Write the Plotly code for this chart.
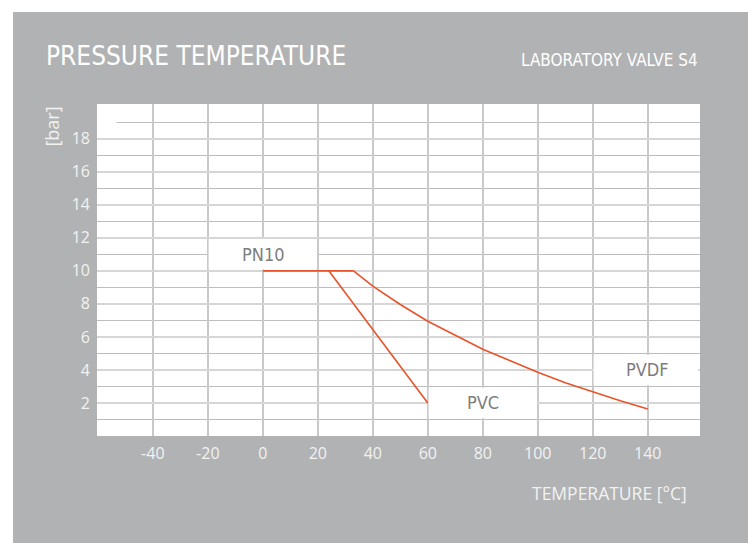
import plotly.graph_objects as go

# --- datos ---
pn10_temp = [0, 33]
pn10_bar = [10, 10]

pvc_temp = [24, 60]
pvc_bar = [10, 2]

pvdf_temp = [33, 40, 50, 60, 70, 80, 90, 100, 110, 120, 130, 140]
pvdf_bar = [10, 9.07, 7.96, 6.95, 6.1, 5.25, 4.55, 3.86, 3.23, 2.67, 2.14, 1.64]

x_ticks = [-40, -20, 0, 20, 40, 60, 80, 100, 120, 140]
x_ticktext = ["-40", "-20", "0", "20", "40", "60", "80", "100", "120", "140"]
y_ticks = [2, 4, 6, 8, 10, 12, 14, 16, 18]

# etiquetas de curva: (texto, x, y, caja x0, x1, y0, y1)
curve_labels = [
    ("PN10", 0, 11, -19.7, 19.7, 10.08, 11.92),
    ("PVC", 80, 2, 60.3, 99.7, 1.08, 2.92),
    ("PVDF", 140, 4, 120.3, 158.4, 3.08, 4.92),
]

red = "#e8532b"
bg_gray = "#b1b2b4"
light = "#f2f2f2"
narrow = "DejaVu Sans Condensed, Liberation Sans Narrow, Roboto, sans-serif"

fig = go.Figure()
for tx, ty in [(pn10_temp, pn10_bar), (pvc_temp, pvc_bar), (pvdf_temp, pvdf_bar)]:
    fig.add_trace(go.Scatter(x=tx, y=ty, mode="lines",
                             line=dict(color=red, width=1.6), hoverinfo="skip"))

# cajas blancas debajo de las etiquetas (tapan la rejilla)
shapes = []
for _, _, _, x0, x1, y0, y1 in curve_labels:
    shapes.append(dict(type="rect", xref="x", yref="y", x0=x0, x1=x1, y0=y0, y1=y1,
                       fillcolor="white", line=dict(width=0), layer="between"))
# hueco arriba a la izquierda de la linea 19
shapes.append(dict(type="rect", xref="x", yref="y", x0=-61, x1=-53.2, y0=18.6, y1=19.4,
                   fillcolor="white", line=dict(width=0), layer="between"))
# bordes blancos fuera del recuadro gris
for x0, x1, y0, y1 in [(-0.2, -0.1393, -0.5, 1.5), (-0.2, 1.2, 1.2771, 1.5), (1.0796, 1.2, -0.5, 1.5)]:
    shapes.append(dict(type="rect", xref="paper", yref="paper", x0=x0, x1=x1, y0=y0, y1=y1,
                       fillcolor="white", line=dict(width=0), layer="above"))

annotations = []
for txt, lx, ly, *_ in curve_labels:
    annotations.append(dict(text=txt, x=lx, y=ly, xref="x", yref="y", showarrow=False,
                            font=dict(family=narrow, size=18, color="#7d7d7d")))

annotations += [
    dict(text="PRESSURE TEMPERATURE", x=-0.0879, y=1.146, xref="paper", yref="paper",
         xanchor="left", yanchor="middle", showarrow=False,
         font=dict(family=narrow, size=26, color="white")),
    dict(text="LABORATORY VALVE S4", x=1.0, y=1.133, xref="paper", yref="paper",
         xanchor="right", yanchor="middle", showarrow=False,
         font=dict(family=narrow, size=17, color="white")),
    dict(text="[bar]", x=-0.0746, y=0.932, xref="paper", yref="paper", textangle=-90,
         xanchor="center", yanchor="middle", showarrow=False,
         font=dict(family="Open Sans, sans-serif", size=18, color=light)),
    dict(text="TEMPERATURE [°C]", x=0.9818, y=-0.1717, xref="paper", yref="paper",
         xanchor="right", yanchor="middle", showarrow=False,
         font=dict(family="Open Sans, sans-serif", size=17.5, color=light)),
]

fig.update_layout(
    width=753, height=543,
    margin=dict(l=97, r=53, t=104, b=107),
    paper_bgcolor=bg_gray, plot_bgcolor="white",
    showlegend=False,
    shapes=shapes, annotations=annotations,
    font=dict(family="Open Sans, sans-serif", size=16, color=light),
)
fig.update_xaxes(range=[-60.3, 159], tickvals=x_ticks, ticktext=x_ticktext, showgrid=True,
                 gridcolor="#c9c9c9", gridwidth=1.5, zeroline=False, showline=False,
                 ticks="", ticklabelstandoff=6, tickfont=dict(size=16, color=light))
fig.update_yaxes(range=[0, 20.1], tickvals=y_ticks, showgrid=True,
                 gridcolor="#d6d6d6", gridwidth=2, zeroline=False, showline=False,
                 ticks="", ticklabelstandoff=6, tickfont=dict(size=16, color=light),
                 minor=dict(tick0=1, dtick=2, showgrid=True, gridcolor="#bdbdbd", gridwidth=1))

fig.write_html("out.html", config={"displayModeBar": False},
               post_script="document.body.style.margin='0';")
